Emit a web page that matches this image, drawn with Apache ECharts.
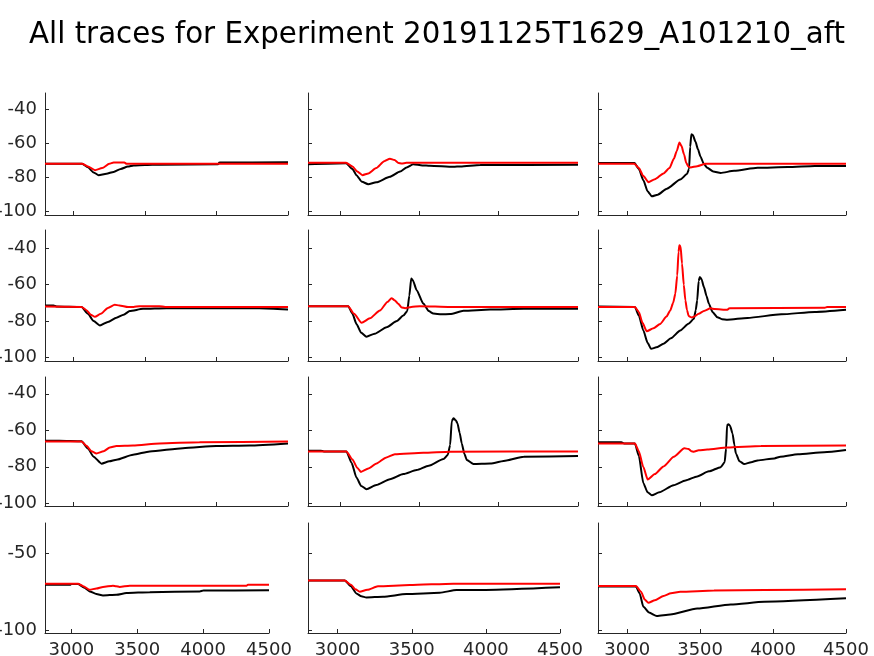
<!DOCTYPE html>
<html>
<head>
<meta charset="utf-8">
<script src="https://cdn.jsdelivr.net/npm/echarts@6/dist/echarts.min.js"></script>
<style>
html,body{margin:0;padding:0;background:#fff;}
#chart{width:874px;height:656px;}
</style>
</head>
<body>
<div id="chart"></div>
<script>
// ---- Data: [time, voltage] pairs ----
const xTicks = [3000, 3500, 4000, 4500];
const yTicksA = [-100, -80, -60, -40];
const yTicksB = [-100, -50];

const black_r1c1 = [[2800,-72],[3060,-72],[3100,-74],[3140,-77],[3175,-78.6],[3230,-77.8],[3280,-76.7],[3330,-75],[3380,-73.6],[3420,-72.9],[3500,-72.7],[3600,-72.5],[4010,-72.3],[4020,-71.2],[4500,-71.1]];
const red_r1c1 = [[2800,-72],[3060,-72],[3100,-73.5],[3150,-75.7],[3200,-74.5],[3250,-72],[3280,-71.2],[3355,-71.2],[3370,-72],[4500,-72]];
const black_r1c2 = [[2800,-72.2],[3040,-71.6],[3080,-75],[3105,-78.6],[3140,-82.5],[3179,-83.9],[3230,-82.8],[3316,-79.6],[3380,-76.5],[3421,-74.1],[3463,-72.2],[3520,-72.9],[3568,-73.1],[3716,-73.7],[3760,-73.5],[3884,-72.7],[4500,-72.5]];
const red_r1c2 = [[2800,-71.4],[3040,-71.4],[3080,-73.5],[3110,-76.5],[3143,-78.6],[3180,-77.6],[3230,-74.5],[3280,-70.5],[3316,-69],[3345,-69.8],[3370,-71.5],[3390,-71.8],[3420,-71.4],[4500,-71.4]];
const black_r1c3 = [[2800,-71.5],[3050,-71.5],[3080,-75],[3111,-81.6],[3140,-88],[3169,-91],[3210,-90],[3272,-86.5],[3364,-81.2],[3410,-78],[3424,-75],[3432,-62],[3440,-54.7],[3450,-55.2],[3468,-59],[3485,-63.5],[3503,-67.8],[3525,-72],[3549,-74.3],[3590,-76.5],[3641,-77.3],[3733,-76.1],[3894,-74.3],[4101,-73.9],[4286,-73.3],[4500,-73.3]];
const red_r1c3 = [[2800,-72],[3050,-72],[3080,-74.5],[3110,-79],[3146,-82.7],[3190,-81],[3249,-77.6],[3290,-74.5],[3320,-69],[3340,-64.5],[3358,-59.6],[3372,-61.5],[3390,-66.5],[3405,-71.5],[3420,-73.5],[3434,-74.1],[3480,-73.4],[3537,-72],[4500,-72]];
const black_r2c1 = [[2800,-71.4],[2860,-71.4],[2880,-72],[3056,-72.3],[3100,-76],[3140,-80],[3184,-82.4],[3240,-80.5],[3300,-78.2],[3350,-76.5],[3393,-74.5],[3486,-73.3],[3649,-72.9],[4300,-73],[4500,-73.7]];
const red_r2c1 = [[2800,-72],[3056,-72.3],[3090,-74],[3120,-76.5],[3149,-77.7],[3190,-76],[3240,-72.8],[3288,-71.1],[3320,-71.4],[3381,-72.3],[3420,-72.3],[3460,-71.8],[3600,-71.8],[3640,-72.3],[4500,-72.3]];
const black_r2c2 = [[2800,-71.8],[3053,-71.8],[3080,-76],[3105,-81.6],[3135,-86.5],[3168,-88.6],[3220,-87],[3295,-83.4],[3360,-80],[3400,-77],[3425,-74.5],[3438,-66],[3450,-56.6],[3460,-57.5],[3484,-63],[3526,-70.4],[3560,-74.5],[3589,-75.9],[3640,-76.3],[3695,-76.2],[3779,-74.4],[3947,-73.7],[4158,-73.3],[4500,-73.3]];
const red_r2c2 = [[2800,-71.8],[3053,-71.8],[3090,-76],[3137,-81],[3190,-78.5],[3253,-74.2],[3300,-69.5],[3326,-67.4],[3345,-68.5],[3368,-70.5],[3390,-72.5],[3411,-72.9],[3450,-72.3],[3505,-71.8],[3695,-72.3],[4500,-72.3]];
const black_r2c3 = [[2800,-72],[3053,-72.3],[3080,-77],[3111,-85.2],[3140,-92],[3164,-95.3],[3200,-94.5],[3249,-92.5],[3300,-89.5],[3364,-85.2],[3420,-81.5],[3457,-78.8],[3470,-74],[3480,-68.6],[3490,-58],[3498,-55.8],[3510,-57],[3526,-61.3],[3545,-66.5],[3560,-70.5],[3585,-75],[3618,-77.9],[3650,-79],[3687,-79.3],[3825,-78.3],[4056,-76.3],[4286,-75],[4500,-73.8]];
const red_r2c3 = [[2800,-72.3],[3053,-72.3],[3080,-75],[3105,-81],[3134,-85.6],[3180,-84],[3226,-81.6],[3270,-77.5],[3295,-74.2],[3315,-70],[3330,-65],[3343,-55],[3352,-42],[3358,-38.3],[3366,-39],[3376,-48.4],[3388,-60],[3399,-68.6],[3410,-74],[3422,-77.3],[3440,-78],[3457,-77.7],[3490,-76],[3526,-74.5],[3572,-73],[3600,-73.4],[3687,-73.8],[3700,-73],[4355,-72.7],[4370,-72.3],[4500,-72.3]];
const black_r3c1 = [[2800,-65.8],[2900,-65.7],[3056,-66],[3100,-70],[3140,-74.5],[3195,-78.3],[3250,-77],[3300,-76.1],[3416,-73.4],[3533,-71.6],[3765,-69.8],[3998,-68.6],[4230,-68.3],[4500,-67.2]];
const red_r3c1 = [[2800,-66.1],[3056,-66.1],[3090,-68.5],[3125,-71.5],[3160,-72.7],[3210,-71.5],[3253,-69.4],[3300,-68.6],[3416,-68.3],[3602,-67.2],[3881,-66.5],[4500,-66.2]];
const black_r3c2 = [[2800,-71.2],[2880,-71.2],[2900,-71.6],[3042,-71.6],[3075,-78],[3105,-85.9],[3135,-90.5],[3168,-92.3],[3230,-90],[3316,-86.8],[3400,-84],[3484,-81.8],[3560,-79.5],[3653,-75.8],[3680,-73.5],[3695,-68],[3705,-55],[3716,-53.4],[3730,-54.5],[3741,-56.1],[3755,-61.5],[3768,-67.2],[3785,-73],[3800,-76.3],[3842,-78.5],[3947,-78.2],[4050,-76.5],[4158,-74.5],[4500,-74.1]];
const red_r3c2 = [[2800,-71.6],[3042,-71.6],[3080,-76],[3110,-80.5],[3133,-82.8],[3180,-81],[3232,-78.2],[3290,-75],[3347,-73.1],[3526,-72.3],[3695,-71.7],[4500,-71.6]];
const black_r3c3 = [[2800,-66.6],[2960,-66.6],[2980,-67.3],[3053,-67.3],[3080,-74],[3111,-89],[3140,-94],[3169,-95.6],[3220,-94],[3318,-90.1],[3400,-87.5],[3480,-85.3],[3560,-82.5],[3641,-80.2],[3668,-77.5],[3678,-70],[3685,-57],[3694,-56.7],[3705,-57.5],[3722,-61.7],[3735,-68],[3745,-72.7],[3770,-77],[3802,-78.5],[3850,-77.5],[3894,-76.5],[4009,-75.4],[4050,-74.5],[4171,-73.2],[4350,-72],[4500,-70.8]];
const red_r3c3 = [[2800,-67.3],[3053,-67.3],[3080,-71.5],[3110,-80],[3141,-87],[3190,-84],[3249,-79.8],[3320,-74.5],[3392,-69.9],[3420,-70.2],[3440,-71.5],[3456,-71.7],[3490,-71],[3549,-70.5],[3687,-69.4],[3917,-68.6],[4500,-68.3]];
const black_r4c1 = [[2800,-70.5],[2990,-70.5],[3000,-70],[3051,-70],[3100,-72.5],[3139,-74.8],[3190,-76.5],[3240,-77.4],[3342,-77],[3418,-75.9],[3595,-75.3],[3975,-74.8],[4000,-74.3],[4500,-74.1]];
const red_r4c1 = [[2800,-69.8],[3051,-69.8],[3090,-71.5],[3139,-73.7],[3190,-73],[3240,-71.9],[3316,-71.1],[3340,-71.5],[3366,-71.9],[3443,-71.1],[4329,-71.1],[4340,-70.5],[4500,-70.5]];
const black_r4c2 = [[2800,-67.8],[3048,-67.8],[3090,-71.5],[3126,-76.1],[3160,-78],[3194,-78.7],[3306,-78.3],[3464,-76.5],[3689,-75.7],[3802,-73.9],[4000,-73.9],[4500,-72.2]];
const red_r4c2 = [[2800,-67.8],[3048,-67.8],[3090,-70.5],[3120,-73.5],[3149,-75],[3200,-73.8],[3272,-71.5],[3487,-70.7],[3780,-69.8],[4500,-69.8]];
const black_r4c3 = [[2800,-71.7],[3060,-71.7],[3085,-76],[3111,-84.8],[3150,-88.5],[3203,-90.7],[3295,-89.8],[3480,-85.9],[3710,-83.3],[3940,-81.5],[4500,-79.3]];
const red_r4c3 = [[2800,-71.3],[3060,-71.3],[3095,-75],[3120,-80],[3145,-82.2],[3190,-80.5],[3249,-77.8],[3300,-76],[3364,-75],[3595,-74.3],[3940,-73.9],[4500,-73.5]];

const panels = [
  [black_r1c1, red_r1c1], [black_r1c2, red_r1c2], [black_r1c3, red_r1c3],
  [black_r2c1, red_r2c1], [black_r2c2, red_r2c2], [black_r2c3, red_r2c3],
  [black_r3c1, red_r3c1], [black_r3c2, red_r3c2], [black_r3c3, red_r3c3],
  [black_r4c1, red_r4c1], [black_r4c2, red_r4c2], [black_r4c3, red_r4c3]
];

// ---- Layout ----
const colLeft = [45, 308, 598];
const colWidth = [[243, 270, 248], [243, 270, 248], [243, 270, 248], [224, 252, 248]];
const rowTop = [93, 230, 377, 523];
const rowHeight = [122, 131, 129, 110];
const rowY = [[-101.9, -30.6], [-102, -29.9], [-101.5, -30.8], [-101.7, -30.6]];

const FONT = 'DejaVu Sans';
const AX = '#262626';
const LABEL_SIZE = 18;
const grids = [], xAxes = [], yAxes = [], series = [];
for (let r = 0; r < 4; r++) {
  for (let c = 0; c < 3; c++) {
    const i = r * 3 + c;
    grids.push({left: colLeft[c], top: rowTop[r], width: colWidth[r][c], height: rowHeight[r],
      containLabel: false, outerBoundsMode: 'none'});
    xAxes.push({
      type: 'value', gridIndex: i, min: 2800, max: 4500,
      axisLine: {show: true, lineStyle: {color: AX, width: 1}},
      axisTick: {show: true, inside: true, length: 4, customValues: xTicks, lineStyle: {color: AX}},
      axisLabel: {show: r === 3, customValues: xTicks, color: AX, fontFamily: FONT, fontSize: LABEL_SIZE, margin: 8,
        hideOverlap: false, formatter: function (v) { return String(v); }},
      splitLine: {show: false}
    });
    const yt = r === 3 ? yTicksB : yTicksA;
    yAxes.push({
      type: 'value', gridIndex: i, min: rowY[r][0], max: rowY[r][1],
      axisLine: {show: true, lineStyle: {color: AX, width: 1}},
      axisTick: {show: true, inside: true, length: 4, customValues: yt, lineStyle: {color: AX}},
      axisLabel: {show: c === 0, customValues: yt, color: AX, fontFamily: FONT, fontSize: LABEL_SIZE, margin: 8,
        hideOverlap: false, formatter: function (v) { return String(v); }},
      splitLine: {show: false}
    });
    series.push({
      type: 'line', xAxisIndex: i, yAxisIndex: i, data: panels[i][0],
      showSymbol: false, smooth: 0.2, smoothMonotone: 'x', silent: true,
      lineStyle: {color: '#000000', width: 2}, z: 2
    });
    series.push({
      type: 'line', xAxisIndex: i, yAxisIndex: i, data: panels[i][1],
      showSymbol: false, smooth: 0.2, smoothMonotone: 'x', silent: true,
      lineStyle: {color: '#ff0000', width: 2}, z: 3
    });
  }
}

const chart = echarts.init(document.getElementById('chart'), null, {renderer: 'canvas'});
chart.setOption({
  animation: false,
  backgroundColor: '#ffffff',
  title: {
    text: 'All traces for Experiment 20191125T1629_A101210_aft',
    left: 'center', top: 16,
    textStyle: {fontFamily: FONT, fontSize: 29.3, fontWeight: 'normal', color: '#000000'}
  },
  grid: grids,
  xAxis: xAxes,
  yAxis: yAxes,
  series: series
});
</script>
</body>
</html>
